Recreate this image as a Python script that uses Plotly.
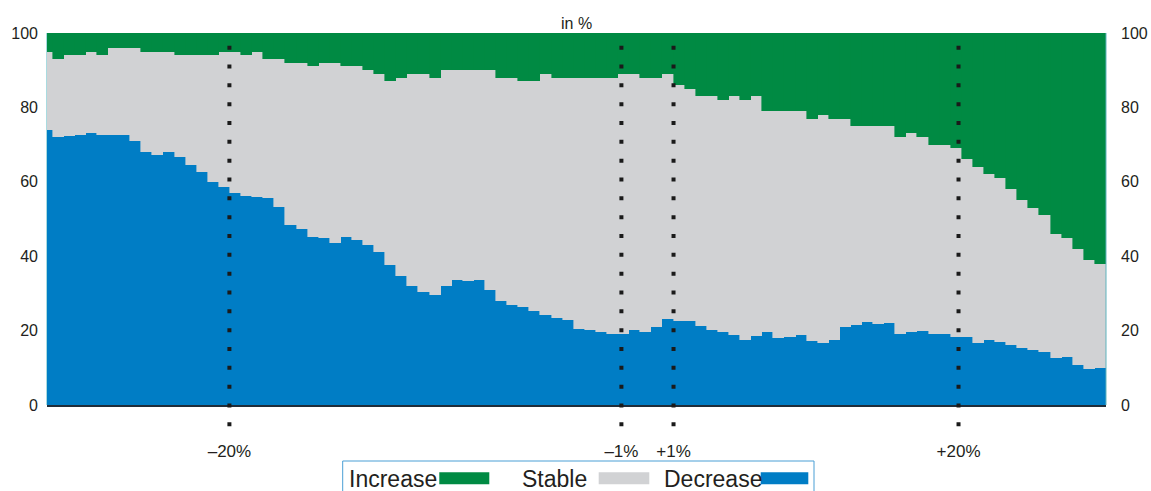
import plotly.graph_objects as go

# ---- data ----
bins = list(range(1, 97))
decrease = [74.0, 72.0, 72.4, 72.5, 73.1, 72.7, 72.5, 72.7, 71.1, 68.0,
            67.3, 68.0, 66.8, 64.4, 62.6, 59.9, 58.5, 57.1, 56.3, 56.0,
            55.7, 53.2, 48.5, 47.3, 45.1, 44.8, 43.5, 45.1, 44.4, 43.1,
            41.2, 37.7, 34.7, 32.1, 30.4, 29.5, 32.1, 33.5, 33.3, 33.7,
            31.0, 28.0, 26.8, 26.4, 25.2, 24.3, 23.5, 22.9, 20.3, 20.1,
            19.7, 19.2, 19.0, 20.2, 19.7, 21.0, 23.2, 22.7, 22.7, 21.3,
            20.2, 19.5, 18.9, 17.4, 18.6, 19.7, 18.1, 18.4, 18.9, 17.1,
            16.8, 17.5, 21.0, 21.4, 22.2, 21.9, 22.1, 19.1, 19.5, 20.0,
            19.2, 19.2, 18.4, 18.4, 16.8, 17.4, 17.0, 16.0, 15.2, 14.9,
            14.3, 12.7, 12.8, 10.7, 9.8, 10.0]
stable = [21.0, 21.0, 21.6, 21.5, 21.9, 21.3, 23.5, 23.3, 24.9, 27.0,
          27.7, 27.0, 27.2, 29.6, 31.4, 34.1, 36.5, 37.9, 37.7, 39.0,
          37.3, 39.8, 43.5, 44.7, 45.9, 47.2, 48.5, 45.9, 46.6, 46.9,
          47.8, 49.3, 53.3, 56.9, 58.6, 58.5, 57.9, 56.5, 56.7, 56.3,
          59.0, 60.0, 61.2, 60.6, 61.8, 64.7, 64.5, 65.1, 67.7, 67.9,
          68.3, 68.8, 70.0, 68.8, 68.3, 67.0, 65.8, 63.3, 62.3, 61.7,
          62.8, 62.5, 64.1, 64.6, 64.4, 59.3, 60.9, 60.6, 60.1, 59.9,
          61.2, 59.5, 56.0, 53.6, 52.8, 53.1, 52.9, 52.9, 53.5, 52.0,
          50.8, 50.8, 50.6, 47.6, 47.2, 44.6, 44.0, 42.0, 39.8, 38.1,
          36.7, 33.3, 32.2, 31.3, 29.2, 28.0]
increase = [5, 7, 6, 6, 5, 6, 4, 4, 4, 5,
            5, 5, 6, 6, 6, 6, 5, 5, 6, 5,
            7, 7, 8, 8, 9, 8, 8, 9, 9, 10,
            11, 13, 12, 11, 11, 12, 10, 10, 10, 10,
            10, 12, 12, 13, 13, 11, 12, 12, 12, 12,
            12, 12, 11, 11, 12, 12, 11, 14, 15, 17,
            17, 18, 17, 18, 17, 21, 21, 21, 21, 23,
            22, 23, 23, 25, 25, 25, 25, 28, 27, 28,
            30, 30, 31, 34, 36, 38, 39, 42, 45, 47,
            49, 54, 55, 58, 61, 62]
marker_pos = [17.45, 52.8, 57.5, 83.2]
marker_labels = ["\u201320%", "\u20131%", "+1%", "+20%"]
y_ticks = [0, 20, 40, 60, 80, 100]
legend_names = ["Increase", "Stable", "Decrease"]

GREEN = "#008a43"
GRAY = "#d1d2d4"
BLUE = "#007dc5"
TXT = "#231f20"
FONT = "Liberation Sans, Arial, sans-serif"

W, H = 1151, 491
ML, MT = 47, 33
PW, PH = 1059, 372
MR, MB = W - ML - PW, H - MT - PH


def px(x):  # screen x of the reference -> paper
    return (x - ML) / PW


def py(y):  # screen y of the reference -> paper
    return (MT + PH - y) / PH


fig = go.Figure()
for name, vals, col in [("Decrease", decrease, BLUE),
                        ("Stable", stable, GRAY),
                        ("Increase", increase, GREEN)]:
    fig.add_trace(go.Bar(x=bins, y=vals, name=name, width=1,
                         marker=dict(color=col, line=dict(color=col, width=0.6)),
                         showlegend=False, hoverinfo="skip"))
# invisible trace so the right axis is drawn
fig.add_trace(go.Scatter(x=[bins[0]], y=[0], yaxis="y2", mode="markers",
                         marker=dict(opacity=0), showlegend=False, hoverinfo="skip"))

shapes = []
for xp in marker_pos:
    shapes.append(dict(type="line", xref="x", yref="paper", x0=xp, x1=xp,
                       y0=py(45.7), y1=py(426.5),
                       line=dict(color="#1a1a1a", width=4, dash="4px,14.83px")))
shapes.append(dict(type="line", xref="paper", yref="paper", x0=px(46.5), x1=px(46.5),
                   y0=0, y1=1, line=dict(color="#a9dbe0", width=1)))
shapes.append(dict(type="line", xref="paper", yref="paper", x0=px(1106), x1=px(1106),
                   y0=0, y1=1, line=dict(color="#5fb3bd", width=1)))
# legend box
shapes.append(dict(type="rect", xref="paper", yref="paper", x0=px(342.7), x1=px(814),
                   y0=py(461), y1=py(500), line=dict(color="#4b9fd5", width=1),
                   fillcolor="rgba(0,0,0,0)"))
annotations = [dict(text="in %", xref="paper", yref="paper", x=px(576), y=py(23),
                    showarrow=False, font=dict(family=FONT, size=16, color=TXT),
                    xanchor="center", yanchor="middle")]
legend_items = [(legend_names[0], 346.5, 439.3, 489.3, GREEN),
                (legend_names[1], 519.5, 598.7, 649.3, GRAY),
                (legend_names[2], 662, 760.7, 808.3, BLUE)]
for text, tx, sx0, sx1, col in legend_items:
    annotations.append(dict(text=text, xref="paper", yref="paper", x=px(tx), y=py(479),
                            showarrow=False, xanchor="left", yanchor="middle",
                            font=dict(family=FONT, size=23, color=TXT)))
    shapes.append(dict(type="rect", xref="paper", yref="paper", x0=px(sx0), x1=px(sx1),
                       y0=py(484.3), y1=py(472.3), line=dict(width=0), fillcolor=col))

fig.update_layout(
    width=W, height=H,
    margin=dict(l=ML, r=MR, t=MT, b=MB, autoexpand=False),
    barmode="stack", bargap=0,
    paper_bgcolor="white", plot_bgcolor="white",
    font=dict(family=FONT, size=16, color=TXT),
    xaxis=dict(range=[1, 96.5], tickvals=marker_pos, ticktext=marker_labels,
               ticks="", showgrid=False, zeroline=False, showline=True,
               linecolor="#1f2d3a", linewidth=2, ticklabelstandoff=30,
               tickfont=dict(size=17), automargin=False),
    yaxis=dict(range=[0, 100], tickvals=y_ticks, ticks="", showgrid=False,
               zeroline=False, showline=False, ticklabelstandoff=8,
               tickfont=dict(size=16), automargin=False),
    yaxis2=dict(range=[0, 100], tickvals=y_ticks, ticks="", showgrid=False,
                zeroline=False, showline=False, overlaying="y", side="right",
                ticklabelstandoff=14, tickfont=dict(size=16), automargin=False),
    shapes=shapes, annotations=annotations,
)

fig.write_html("out.html",
               config={"displayModeBar": False},
               post_script="document.body.style.margin='0';"
                           "document.body.style.overflow='hidden';")
